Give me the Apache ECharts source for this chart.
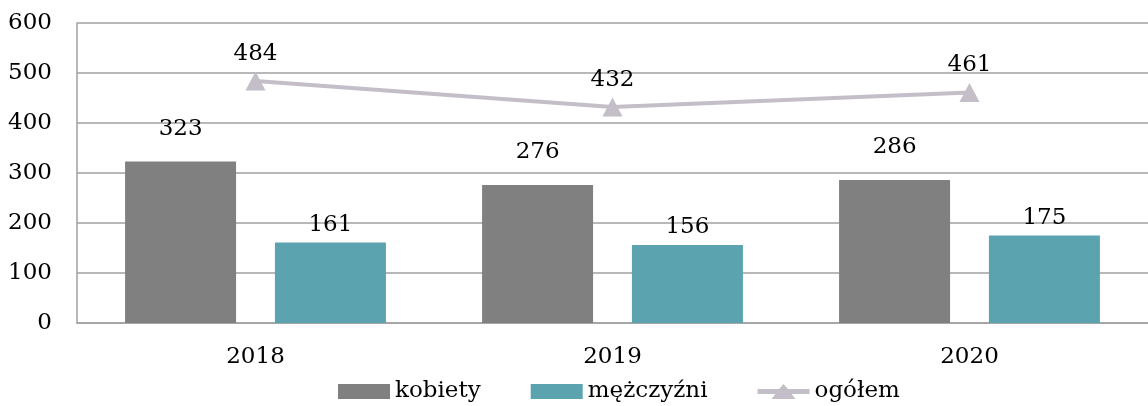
<!DOCTYPE html>
<html>
<head>
<meta charset="utf-8">
<script src="https://cdn.jsdelivr.net/npm/echarts@6/dist/echarts.min.js"></script>
<style>
  html, body { margin: 0; padding: 0; background: #fff; }
  #chart { width: 1148px; height: 406px; }
</style>
</head>
<body>
<div id="chart"></div>
<script>
// dane
const years = ['2018', '2019', '2020'];
const kobiety = [323, 276, 286];
const mezczyzni = [161, 156, 175];
const ogolem = [484, 432, 461];
const yTicks = [0, 100, 200, 300, 400, 500, 600];

var chartDom = document.getElementById('chart');
var myChart = echarts.init(chartDom);
var font = 'DejaVu Serif';
var fs = 23;

// ikona legendy: gruba linia z trójkątem
var lineIcon = 'path://M0,5 L21.6,5 L26,0 L30.4,5 L52,5 L52,10 L34.1,10 L38,15 L14,15 L17.9,10 L0,10 Z';

var option = {
    textStyle: { fontFamily: font },
    animation: false,
    grid: { left: 77, right: -6, top: 23, bottom: 83 },
    legend: {
        bottom: -2,
        left: 333,
        itemWidth: 52,
        itemHeight: 15,
        itemGap: 50,
        textStyle: { fontFamily: font, fontSize: fs, color: '#000' },
        data: [
            { name: 'kobiety', icon: 'rect' },
            { name: 'mężczyźni', icon: 'rect' },
            { name: 'ogółem', icon: lineIcon, itemStyle: { color: '#c4bec8' } }
        ]
    },
    xAxis: {
        type: 'category',
        data: years,
        axisLine: { lineStyle: { color: '#a0a0a0', width: 1.5 } },
        axisTick: { show: false },
        axisLabel: { fontFamily: font, fontSize: fs, color: '#000', margin: 23 }
    },
    yAxis: {
        type: 'value',
        min: yTicks[0],
        max: yTicks[yTicks.length - 1],
        interval: 100,
        axisLine: { show: true, lineStyle: { color: '#a0a0a0', width: 1.5 } },
        axisTick: { show: false },
        splitLine: { lineStyle: { color: '#a0a0a0', width: 1.5 } },
        axisLabel: { fontFamily: font, fontSize: fs, color: '#000', margin: 25 }
    },
    series: [
        {
            name: 'kobiety',
            type: 'bar',
            data: kobiety,
            barWidth: 111,
            barGap: '35%',
            itemStyle: { color: '#808080' },
            label: { show: true, position: 'top', distance: 21, fontFamily: font, fontSize: fs, color: '#000' }
        },
        {
            name: 'mężczyźni',
            type: 'bar',
            data: mezczyzni,
            barWidth: 111,
            itemStyle: { color: '#5ba3af' },
            label: { show: true, position: 'top', distance: 6, fontFamily: font, fontSize: fs, color: '#000' }
        },
        {
            name: 'ogółem',
            type: 'line',
            data: ogolem,
            symbol: 'triangle',
            symbolSize: [20, 19],
            lineStyle: { color: '#c4bec8', width: 4 },
            itemStyle: { color: '#c4bec8' },
            label: { show: true, position: 'top', distance: 6, fontFamily: font, fontSize: fs, color: '#000' }
        }
    ]
};

myChart.setOption(option);
</script>
</body>
</html>
